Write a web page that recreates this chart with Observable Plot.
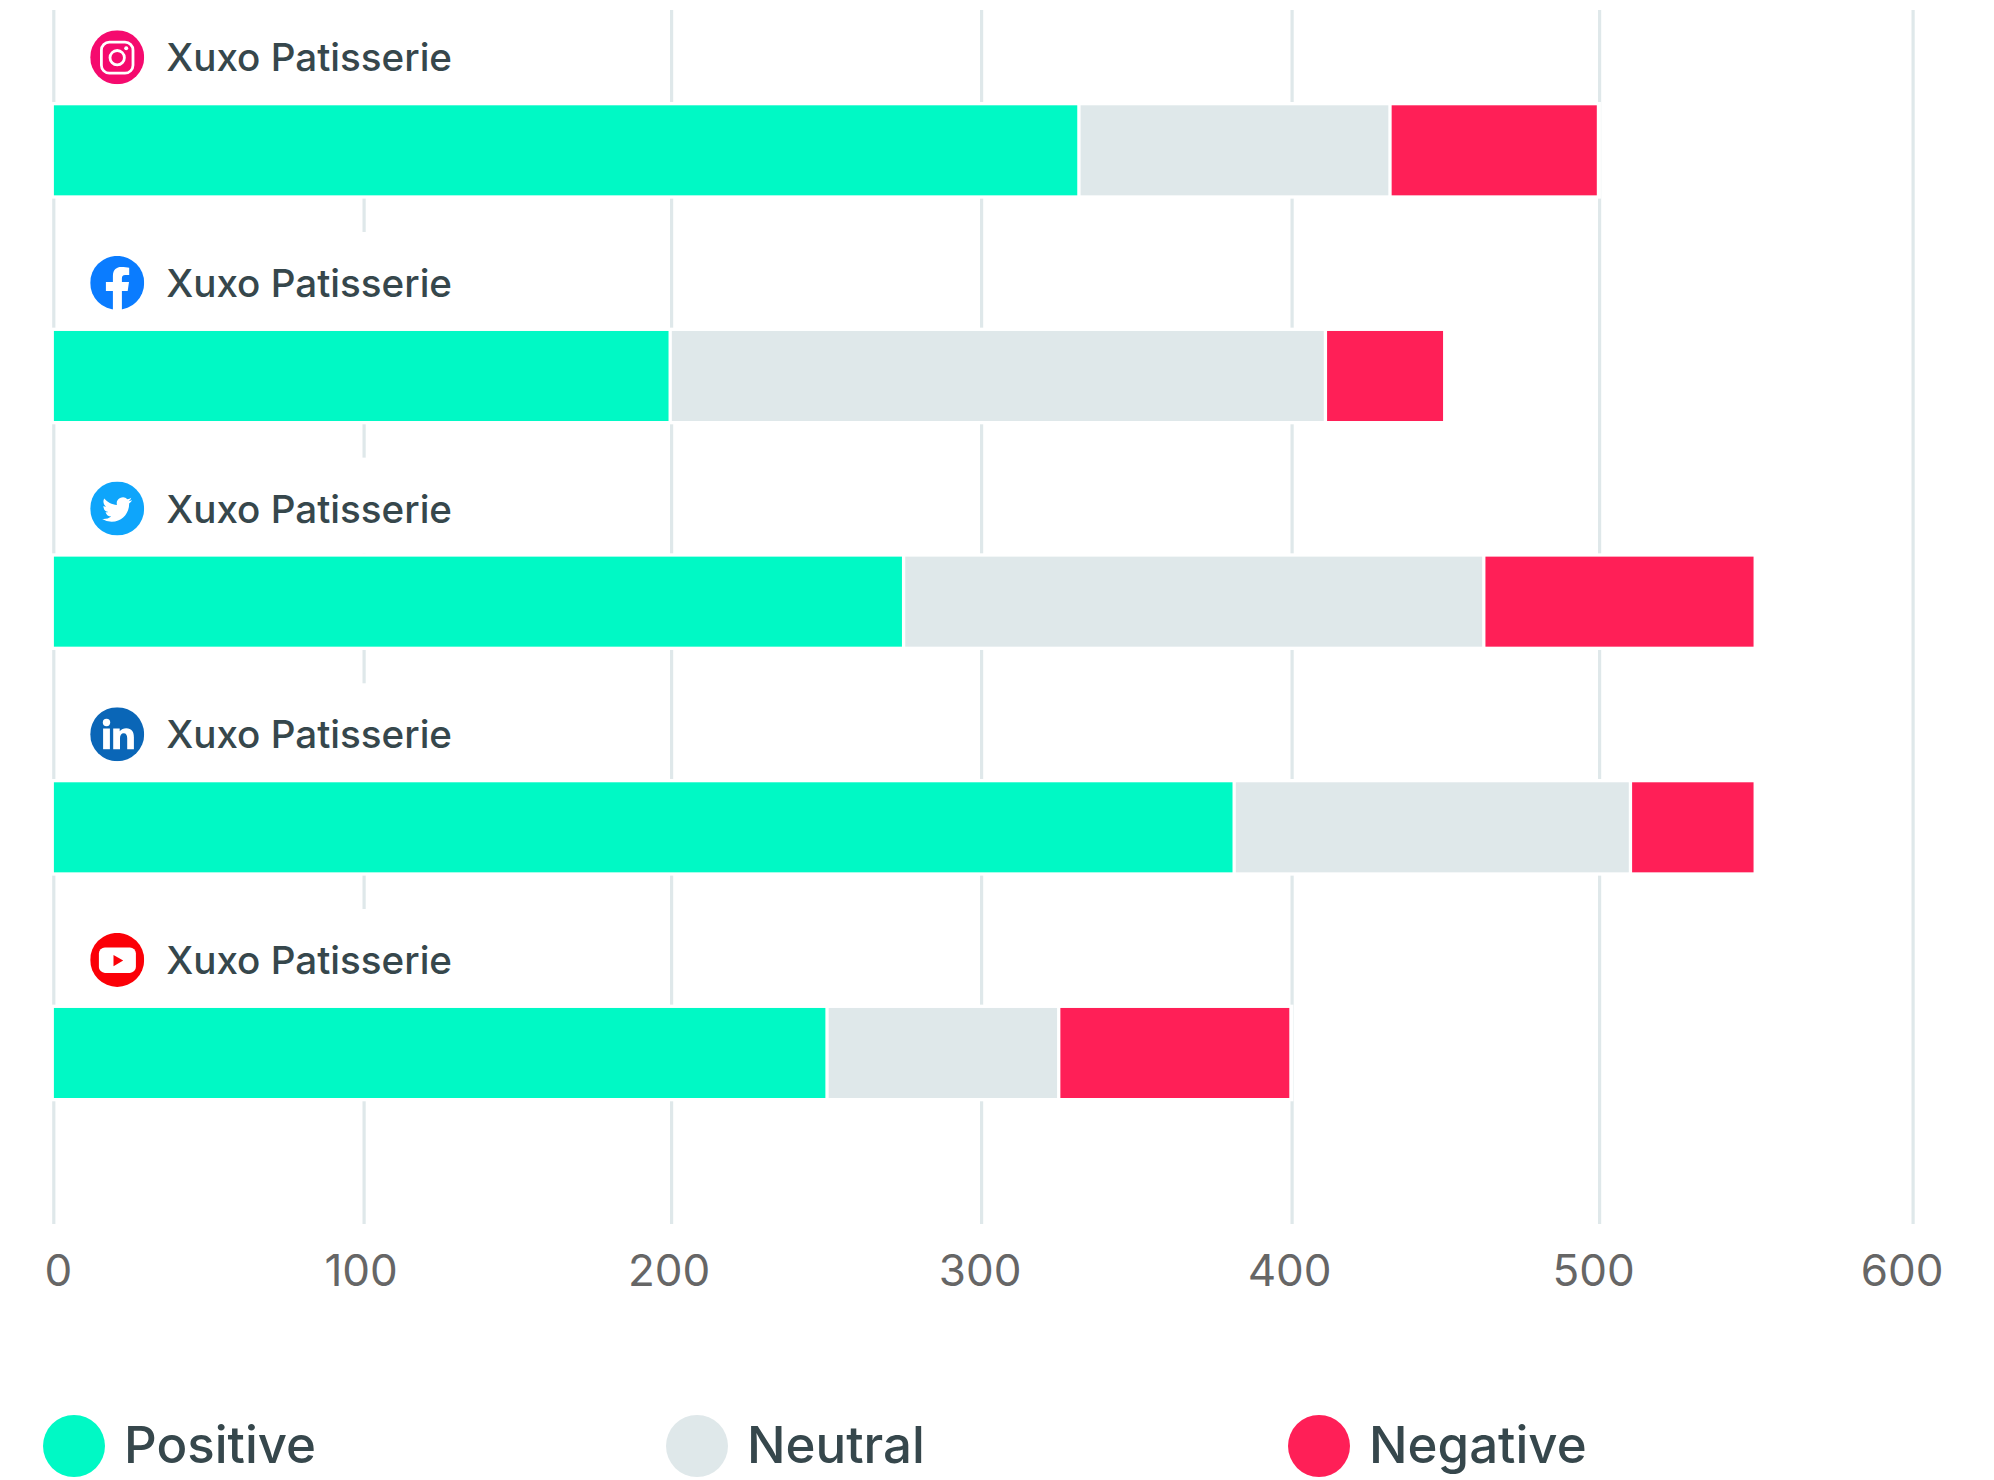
<!DOCTYPE html>
<html>
<head>
<meta charset="utf-8">
<script src="https://cdn.jsdelivr.net/npm/d3@7"></script>
<script src="https://cdn.jsdelivr.net/npm/@observablehq/plot@0.6"></script>
<style>
  html, body { margin: 0; background: #fff; font-family: Inter, sans-serif; }
  #chart svg { display: block; }
  #legend { position: relative; height: 66px; margin-top: 114px; color: #36474c; font-size: 51px; font-weight: 500; }
  .item { position: absolute; top: -1px; display: flex; align-items: center; height: 63px; }
  .dot { width: 62px; height: 62px; border-radius: 50%; margin-right: 19px; position: relative; top: 1px; }
</style>
</head>
<body>
<div id="chart"></div>
<div id="legend"></div>
<script>
// Mentions per social account, split by sentiment
const platforms = ["Instagram", "Facebook", "Twitter", "LinkedIn", "YouTube"];
const accountName = "Xuxo Patisserie";
const positive = [331.5, 199.7, 275, 381.5, 250.3];
const neutral = [100.5, 211.3, 187.5, 128.5, 74.7];
const negative = [68, 39, 87.5, 40, 75];
const sentiments = ["Positive", "Neutral", "Negative"];
const sentimentColors = ["#00f9c5", "#dfe8ea", "#ff1f57"];
const xTicks = [0, 100, 200, 300, 400, 500, 600];

// Round brand badges shown beside each account name
const badge = (color, inner) => `data:image/svg+xml,${encodeURIComponent(
  `<svg xmlns="http://www.w3.org/2000/svg" viewBox="0 0 54 54" width="216" height="216"><circle cx="27" cy="27" r="27" fill="${color}"/>${inner}</svg>`)}`;

const icons = {
  Instagram: badge("#f50a6e", `<rect x="11.2" y="12" width="31.6" height="31" rx="8" fill="none" stroke="#fff" stroke-width="2.8"/><circle cx="27" cy="27.5" r="7.2" fill="none" stroke="#fff" stroke-width="2.8"/><circle cx="36" cy="18" r="2" fill="#fff"/>`),
  Facebook: badge("#0a7cff", `<path fill="#fff" d="M22.7 54V35H15.7V26H22.7V20C22.7 13.5 26.5 11 31 11C34 11 37 11.4 39 11.8V19H35C32.5 19 31.7 20.5 31.7 22V26H38.8L37.5 35H31.7V54Z"/>`),
  Twitter: badge("#0ea5fb", `<g transform="translate(12 13) scale(1.25)"><path fill="#fff" d="M23.953 4.57a10 10 0 01-2.825.775 4.958 4.958 0 002.163-2.723c-.951.555-2.005.959-3.127 1.184a4.92 4.92 0 00-8.384 4.482C7.69 8.095 4.067 6.13 1.64 3.162a4.822 4.822 0 00-.666 2.475c0 1.71.87 3.213 2.188 4.096a4.904 4.904 0 01-2.228-.616v.06a4.923 4.923 0 003.946 4.827 4.996 4.996 0 01-2.212.085 4.936 4.936 0 004.604 3.417 9.867 9.867 0 01-6.102 2.105c-.39 0-.779-.023-1.17-.067a13.995 13.995 0 007.557 2.209c9.053 0 13.998-7.496 13.998-13.985 0-.21 0-.42-.015-.63A9.935 9.935 0 0024 4.59z"/></g>`),
  LinkedIn: badge("#0a66b7", `<circle cx="16.3" cy="15.3" r="3.7" fill="#fff"/><rect x="12.9" y="21.3" width="6.8" height="20.7" fill="#fff"/><path fill="#fff" d="M23 21.3H29.5V24C31 22 33.5 21 36 21C41.5 21 43.7 24.5 43.7 30V42H37V31C37 28 36 26 33.5 26C31 26 29.8 28 29.8 31V42H23Z"/>`),
  YouTube: badge("#fb0007", `<rect x="8.7" y="14.7" width="37" height="25.3" rx="6" fill="#fff"/><path fill="#fb0007" d="M23.3 22L33 27.7L23.3 33.3Z"/>`)
};

// One row per stacked segment, plus one summary row per account
const rows = platforms.map((platform, i) => ({
  platform, total: positive[i] + neutral[i] + negative[i], icon: icons[platform]
}));
const segments = platforms.flatMap((platform, i) => {
  const parts = [positive[i], neutral[i], negative[i]];
  let start = 0;
  return parts.map((value, j) => {
    const seg = {platform, sentiment: sentiments[j], start, end: start + value};
    start += value;
    return seg;
  });
});

const tickNudge = [4.5, -3, -2.5, -1.5, -2.5, -6, -11];

const chart = Plot.plot({
  width: 1994,
  height: 1300,
  marginTop: 10,
  marginBottom: 76,
  marginLeft: 53.7,
  marginRight: 80,
  style: {fontFamily: "Inter, sans-serif", background: "#fff"},
  x: {axis: null, type: "linear", domain: xTicks, range: [53.3, 363.6, 671.1, 981.1, 1291.6, 1599.1, 1912.6]},
  y: {axis: null, type: "band", domain: platforms, range: [105.3, 1098], paddingInner: 0.601, paddingOuter: 0, round: false},
  color: {domain: sentiments, range: sentimentColors},
  marks: [
    Plot.ruleX(xTicks, {x: d => d, stroke: "#dfe8ea", strokeWidth: 3.2}),
    // White panel behind each account label
    Plot.barX(rows, {x1: () => 1, x2: () => 150, y: "platform", fill: "#fff", insetTop: -99, insetBottom: 93}),
    // White halo that interrupts the grid around each bar
    Plot.barX(rows, {x1: () => 0, x2: "total", y: "platform", fill: "#fff", insetTop: -3.3, insetBottom: -3.3, insetLeft: -4, insetRight: -1.8}),
    ...sentiments.map(s => Plot.barX(segments.filter(d => d.sentiment === s), {
      x1: "start", x2: "end", y: "platform", fill: "sentiment",
      insetLeft: s === "Positive" ? 0.6 : 1.65, insetRight: s === "Negative" ? 2.3 : 1.65
    })),
    Plot.image(rows, {y: "platform", src: "icon", frameAnchor: "left", dx: 63, dy: -93.6, width: 54, height: 54}),
    Plot.text(rows, {y: "platform", text: () => accountName, frameAnchor: "left", textAnchor: "start", dx: 112, dy: -92, fontSize: 38.6, fontWeight: 500, fill: "#36474c"}),
    ...xTicks.map((t, i) => Plot.text([t], {x: d => d, text: d => String(d), frameAnchor: "bottom", lineAnchor: "middle", dy: 47.5, dx: tickNudge[i], fontSize: 44, fill: "#666"}))
  ]
});
document.getElementById("chart").append(chart);

// Legend row below the plot
const legendLeft = [43, 666, 1288];
const legend = document.getElementById("legend");
sentiments.forEach((s, i) => {
  const item = document.createElement("div");
  item.className = "item";
  item.style.left = legendLeft[i] + "px";
  item.innerHTML = `<span class="dot" style="background:${sentimentColors[i]}"></span><span>${s}</span>`;
  legend.append(item);
});
</script>
</body>
</html>
